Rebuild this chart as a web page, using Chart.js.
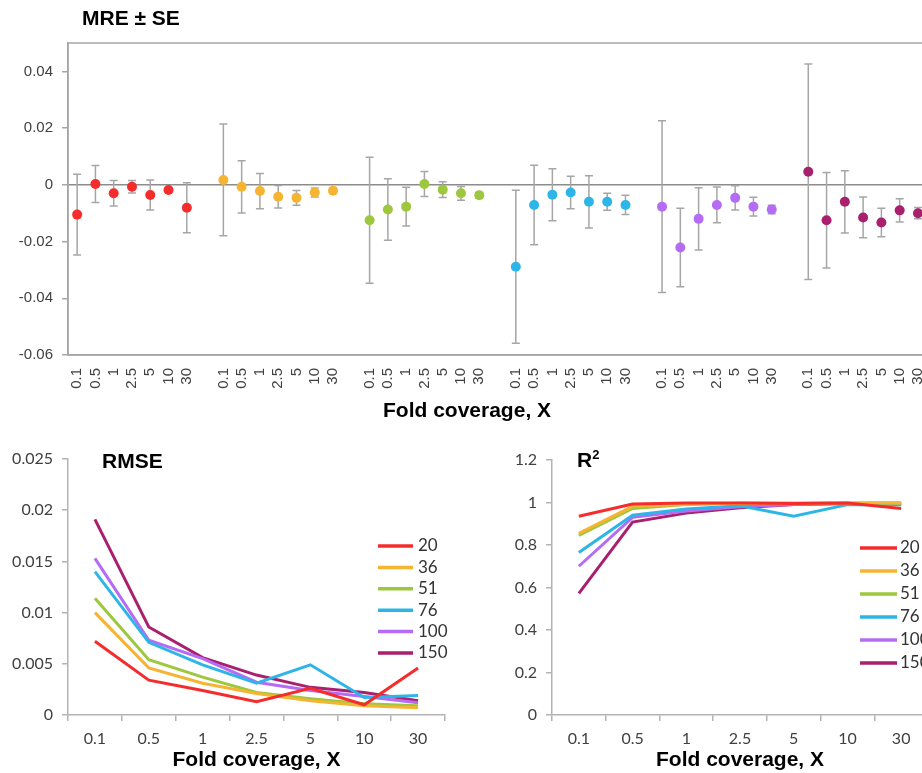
<!DOCTYPE html>
<html>
<head>
<meta charset="utf-8">
<script src="https://cdn.jsdelivr.net/npm/chart.js@4.4.1/dist/chart.umd.min.js"></script>
<style>
  html, body { margin: 0; padding: 0; background: #fff; overflow: hidden; }
  #page { position: relative; width: 922px; height: 773px; overflow: hidden; }
  canvas { position: absolute; }
  .title { position: absolute; font: bold 21px "Liberation Sans", Arial, sans-serif; line-height: 21px; color: #000; white-space: nowrap; }
  .title sup { font-size: 13px; line-height: 0; vertical-align: 8px; }
</style>
</head>
<body>
<div id="page">
  <canvas id="mreChart" width="941" height="425" style="left:0;top:0"></canvas>
  <canvas id="rmseChart" width="460" height="333" style="left:0;top:440px"></canvas>
  <canvas id="r2Chart" width="480" height="333" style="left:460px;top:440px"></canvas>
  <div class="title" style="left:82px;top:7px">MRE ± SE</div>
  <div class="title" style="left:383px;top:399px">Fold coverage, X</div>
  <div class="title" style="left:102px;top:450px">RMSE</div>
  <div class="title" style="left:577px;top:449px">R<sup>2</sup></div>
</div>
<script>
// fold coverage categories and read depths
const coverage = ["0.1", "0.5", "1", "2.5", "5", "10", "30"];
const depths = ["20", "36", "51", "76", "100", "150"];
const colors = ["#f42c2c", "#f5b533", "#9dc73c", "#2eb5e8", "#b46cf5", "#a8206e"];

// MRE means and standard errors
const mre20 = [-0.0105, 0.0003, -0.0030, -0.0007, -0.0036, -0.0018, -0.0081];
const se20 = [0.0142, 0.0065, 0.0045, 0.0022, 0.0053, 0.0006, 0.0088];
const mre36 = [0.0017, -0.0007, -0.0022, -0.0042, -0.0046, -0.0027, -0.0021];
const se36 = [0.0197, 0.0092, 0.0062, 0.0040, 0.0026, 0.0016, 0.0010];
const mre51 = [-0.0125, -0.0087, -0.0077, 0.0003, -0.0017, -0.0030, -0.0037];
const se51 = [0.0222, 0.0108, 0.0068, 0.0044, 0.0028, 0.0024, 0.0010];
const mre76 = [-0.0289, -0.0071, -0.0035, -0.0027, -0.0060, -0.0060, -0.0071];
const se76 = [0.0270, 0.0140, 0.0092, 0.0057, 0.0092, 0.0030, 0.0034];
const mre100 = [-0.0077, -0.0221, -0.0120, -0.0071, -0.0046, -0.0077, -0.0087];
const se100 = [0.0303, 0.0138, 0.0110, 0.0063, 0.0043, 0.0033, 0.0015];
const mre150 = [0.0046, -0.0125, -0.0060, -0.0115, -0.0133, -0.0090, -0.0100];
const se150 = [0.0380, 0.0168, 0.0110, 0.0072, 0.0050, 0.0041, 0.0020];

// RMSE
const rmse20 = [0.0072, 0.0034, 0.0024, 0.0013, 0.0026, 0.0010, 0.0046];
const rmse36 = [0.0100, 0.0046, 0.0031, 0.0021, 0.0014, 0.0009, 0.0007];
const rmse51 = [0.0114, 0.0054, 0.0037, 0.0022, 0.0016, 0.0011, 0.0009];
const rmse76 = [0.0140, 0.0071, 0.0049, 0.0031, 0.0049, 0.0017, 0.0019];
const rmse100 = [0.0153, 0.0073, 0.0055, 0.0032, 0.0024, 0.0018, 0.0012];
const rmse150 = [0.0191, 0.0086, 0.0056, 0.0039, 0.0027, 0.0022, 0.0014];

// R squared
const r2_20 = [0.935, 0.993, 0.998, 0.998, 0.995, 0.998, 0.972];
const r2_36 = [0.855, 0.982, 0.992, 0.997, 0.997, 0.998, 0.998];
const r2_51 = [0.845, 0.972, 0.990, 0.996, 0.997, 0.998, 0.998];
const r2_76 = [0.765, 0.940, 0.970, 0.985, 0.935, 0.990, 0.990];
const r2_100 = [0.700, 0.930, 0.960, 0.980, 0.990, 0.995, 0.997];
const r2_150 = [0.572, 0.908, 0.950, 0.975, 0.990, 0.995, 0.990];

// tick labels
const mreTicks = [-0.06, -0.04, -0.02, 0, 0.02, 0.04];
const rmseTicks = [0, 0.005, 0.01, 0.015, 0.02, 0.025];
const r2Ticks = [0, 0.2, 0.4, 0.6, 0.8, 1, 1.2];

const mreSets = [mre20, mre36, mre51, mre76, mre100, mre150];
const seSets = [se20, se36, se51, se76, se100, se150];
const rmseSets = [rmse20, rmse36, rmse51, rmse76, rmse100, rmse150];
const r2Sets = [r2_20, r2_36, r2_51, r2_76, r2_100, r2_150];

Chart.defaults.font.family = '"Liberation Sans", Arial, sans-serif';
Chart.defaults.color = "#404040";

// ---------- plugins ----------
const errorBars = {
  id: "errorBars",
  beforeDatasetsDraw(chart) {
    const ctx = chart.ctx;
    const y = chart.scales.y;
    ctx.save();
    ctx.strokeStyle = "#a6a6a6";
    ctx.lineWidth = 1.5;
    chart.data.datasets.forEach((ds, i) => {
      const meta = chart.getDatasetMeta(i);
      ds.data.forEach((v, j) => {
        if (v === null) return;
        const x = meta.data[j].x;
        const top = y.getPixelForValue(v + ds.se[j]);
        const bot = y.getPixelForValue(v - ds.se[j]);
        ctx.beginPath();
        ctx.moveTo(x, top); ctx.lineTo(x, bot);
        ctx.moveTo(x - 4, top); ctx.lineTo(x + 4, top);
        ctx.moveTo(x - 4, bot); ctx.lineTo(x + 4, bot);
        ctx.stroke();
      });
    });
    ctx.restore();
  }
};

const plotFrame = {
  id: "plotFrame",
  beforeDatasetsDraw(chart) {
    const a = chart.chartArea, ctx = chart.ctx;
    ctx.save();
    ctx.strokeStyle = "#a6a6a6";
    ctx.lineWidth = 1.5;
    ctx.strokeRect(a.left, a.top, a.right - a.left, a.bottom - a.top);
    ctx.restore();
  }
};

const lineLegend = {
  id: "lineLegend",
  afterDraw(chart, args, opts) {
    const ctx = chart.ctx;
    ctx.save();
    ctx.font = "17px Lato";
    ctx.textBaseline = "middle";
    chart.data.datasets.forEach((ds, i) => {
      const y = opts.y + i * opts.rowH;
      ctx.strokeStyle = ds.borderColor;
      ctx.lineWidth = 3.5;
      ctx.beginPath();
      ctx.moveTo(opts.x, y);
      ctx.lineTo(opts.x + opts.len, y);
      ctx.stroke();
      ctx.fillStyle = "#333";
      ctx.fillText(ds.label, opts.x + opts.len + opts.gap, y);
    });
    ctx.restore();
  }
};

// ---------- MRE ± SE ----------
const topLabels = [];
depths.forEach((d, g) => {
  if (g > 0) topLabels.push("");
  coverage.forEach(c => topLabels.push(c));
});

function spread(values, g) {
  return topLabels.map((_, k) => {
    const s = k - g * 8;
    return s >= 0 && s < coverage.length ? values[s] : null;
  });
}

new Chart(document.getElementById("mreChart"), {
  type: "line",
  data: {
    labels: topLabels,
    datasets: depths.map((d, g) => ({
      label: d,
      data: spread(mreSets[g], g),
      se: spread(seSets[g], g),
      showLine: false,
      pointRadius: 5,
      pointHoverRadius: 5,
      pointBackgroundColor: colors[g],
      pointBorderColor: colors[g],
      pointBorderWidth: 0
    }))
  },
  options: {
    responsive: false,
    animation: false,
    layout: { padding: { top: 43, left: 0, right: 0, bottom: 0 } },
    plugins: { legend: { display: false }, tooltip: { enabled: false } },
    scales: {
      x: {
        offset: true,
        grid: { display: false },
        border: { color: "#a6a6a6", width: 1.5 },
        ticks: { autoSkip: false, minRotation: 90, maxRotation: 90, padding: 5, font: { size: 15 }, color: "#404040" },
        afterFit: s => { s.height = 70; }
      },
      y: {
        min: -0.06,
        max: 0.05,
        afterBuildTicks: s => { s.ticks = mreTicks.map(v => ({ value: v })); },
        afterFit: s => { s.width = 68; },
        grid: {
          color: c => (c.tick && c.tick.value === 0 ? "#8c8c8c" : "rgba(0,0,0,0)"),
          lineWidth: 1.5,
          tickColor: "#a6a6a6",
          tickLength: 6
        },
        border: { color: "#a6a6a6", width: 1.5 },
        ticks: { padding: 9, font: { size: 15 }, color: "#404040", callback: v => String(v) }
      }
    }
  },
  plugins: [plotFrame, errorBars]
});

// ---------- bottom line charts ----------
function lineChart(id, sets, ticks, yMax, yWidth, pad, legend) {
  return new Chart(document.getElementById(id), {
    type: "line",
    data: {
      labels: coverage,
      datasets: depths.map((d, g) => ({
        label: d,
        data: sets[g],
        borderColor: colors[g],
        backgroundColor: colors[g],
        borderWidth: 3,
        pointRadius: 0,
        tension: 0
      }))
    },
    options: {
      responsive: false,
      animation: false,
      layout: { padding: pad },
      plugins: { legend: { display: false }, tooltip: { enabled: false }, lineLegend: legend },
      scales: {
        x: {
          offset: true,
          grid: { offset: true, drawOnChartArea: false, color: "#b3b3b3", tickLength: 6, lineWidth: 1.5 },
          border: { color: "#b3b3b3", width: 1.5 },
          ticks: { padding: 8, font: { family: "Lato", size: 16 }, color: "#404040" },
          title: { display: true, text: "Fold coverage, X", color: "#000", font: { size: 21, weight: "bold" }, padding: { top: 0, bottom: 0 } },
          afterFit: s => { s.height = 58; }
        },
        y: {
          min: 0,
          max: yMax,
          afterBuildTicks: s => { s.ticks = ticks.map(v => ({ value: v })); },
          afterFit: s => { s.width = yWidth; },
          grid: { drawOnChartArea: false, color: "#b3b3b3", tickLength: 6, lineWidth: 1.5 },
          border: { color: "#b3b3b3", width: 1.5 },
          ticks: { padding: 9, font: { family: "Lato", size: 16 }, color: "#404040", callback: v => String(v) }
        }
      }
    },
    plugins: [lineLegend]
  });
}

lineChart("rmseChart", rmseSets, rmseTicks, 0.025, 68,
  { top: 19, right: 15, left: 0, bottom: 0 },
  { x: 378, y: 106, len: 35, gap: 5, rowH: 21.4 });

lineChart("r2Chart", r2Sets, r2Ticks, 1.2, 92,
  { top: 20, right: 12, left: 0, bottom: 0 },
  { x: 400, y: 108, len: 37, gap: 3, rowH: 23 });
</script>
</body>
</html>
